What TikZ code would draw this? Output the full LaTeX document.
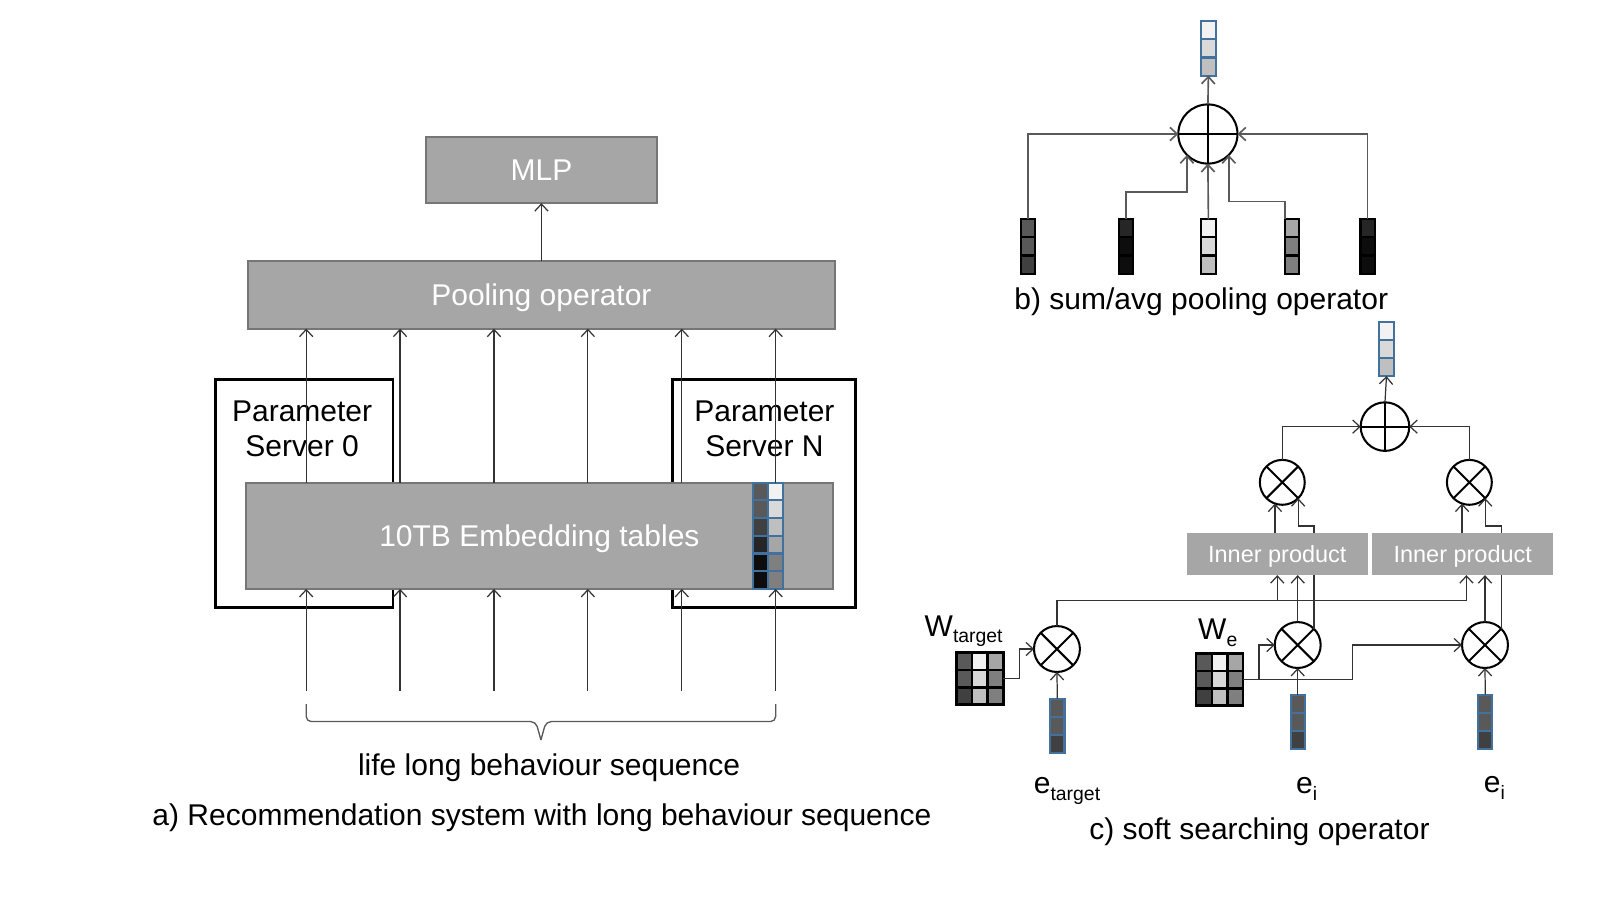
\documentclass[tikz,border=0pt]{standalone}
\usepackage{fontspec}
\setmainfont{Liberation Sans}
\usetikzlibrary{arrows.meta,calc}
\definecolor{g1}{HTML}{F2F2F2}
\definecolor{g2}{HTML}{D9D9D9}
\definecolor{g3}{HTML}{BFBFBF}
\definecolor{g4}{HTML}{A6A6A6}
\definecolor{g5}{HTML}{7F7F7F}
\definecolor{g6}{HTML}{595959}
\definecolor{g7}{HTML}{404040}
\definecolor{g8}{HTML}{262626}
\definecolor{g9}{HTML}{0D0D0D}
\definecolor{vb}{HTML}{41719C}
\definecolor{lc}{HTML}{333333}
\definecolor{lcb}{HTML}{5A5A5A}
\definecolor{bx}{HTML}{A6A6A6}
\definecolor{bxd}{HTML}{767676}
\newcommand\fbig{\fontsize{29.4}{35}\selectfont}
\newcommand\fmid{\fontsize{23}{27}\selectfont}
\newcommand\fsub{\fontsize{19}{19}\selectfont}
\tikzset{
  arr/.style={draw=lc,line width=1.2pt,-{Straight Barb[length=7pt,width=13pt]}},
  arrb/.style={draw=lcb,line width=1.6pt,-{Straight Barb[length=7pt,width=13pt]}},
  gbox/.style={rectangle,fill=bx,draw=bxd,line width=2pt,text=white,font=\fbig,inner sep=0pt,outer sep=0pt,text height=21pt,text depth=0pt},
  ipbox/.style={rectangle,fill=bx,text=white,font=\fmid,inner sep=0pt,outer sep=0pt,text height=16.5pt,text depth=0pt},
  psbox/.style={rectangle,draw=black,line width=2.5pt,fill=white,inner sep=0pt,outer sep=0pt,anchor=north west},
  txt/.style={font=\fbig,inner sep=0pt,outer sep=0pt},
  circ/.style={circle,draw=black,line width=2pt,fill=white,inner sep=0pt,outer sep=0pt},
  brc/.style={draw=g6,line width=1.3pt}
}
% three-cell vector: name, centre x, top y, border colour, three fills
\newcommand{\vthree}[7]{%
  \fill[#5] ({#2-7},{#3}) rectangle ({#2+7},{#3+17.67});
  \fill[#6] ({#2-7},{#3+17.67}) rectangle ({#2+7},{#3+35.33});
  \fill[#7] ({#2-7},{#3+35.33}) rectangle ({#2+7},{#3+53});
  \draw[#4,line width=2pt] ({#2-7},{#3+17.67}) -- ({#2+7},{#3+17.67}) ({#2-7},{#3+35.33}) -- ({#2+7},{#3+35.33});
  \node[draw=#4,line width=2pt,minimum width=14pt,minimum height=53pt,inner sep=0pt,outer sep=0pt,anchor=north] (#1) at (#2,#3) {};
}
% 3x3 matrix: name, left x, top y
\newcommand{\mthree}[3]{%
  \foreach \ci/\ri/\cl in {0/0/g6,0/1/g6,0/2/g7,1/0/g1,1/1/g2,1/2/g3,2/0/g4,2/1/g5,2/2/g5}{
    \fill[\cl] ({#2+\ci*15.33},{#3+\ri*17}) rectangle ({#2+(\ci+1)*15.33},{#3+(\ri+1)*17});}
  \draw[black,line width=2.5pt] ({#2+15.33},{#3}) -- ({#2+15.33},{#3+51}) ({#2+30.67},{#3}) -- ({#2+30.67},{#3+51})
     ({#2},{#3+17}) -- ({#2+46},{#3+17}) ({#2},{#3+34}) -- ({#2+46},{#3+34});
  \node[draw=black,line width=2.5pt,minimum width=46pt,minimum height=51pt,inner sep=0pt,outer sep=0pt,anchor=north west] (#1) at (#2,#3) {};
}
\begin{document}
\begin{tikzpicture}[x=1pt,y=-1pt]
\path[fill=white,use as bounding box] (0,0) rectangle (1567.7,881.8);

%%%%%%%%%%%%%%%% part a
\node[gbox,minimum width=227pt,minimum height=65pt] (mlp) at (530.5,166.5) {MLP};
\node[gbox,minimum width=575pt,minimum height=66pt] (pool) at (530.5,289) {Pooling operator};
\draw[arr] (pool.north) -- (mlp.south);

\node[psbox,minimum width=174pt,minimum height=223pt] (ps0) at (211,372) {};
\node[psbox,minimum width=179pt,minimum height=223pt] (psn) at (659,372) {};
\node[txt,align=center,anchor=north] (ps0t) at (296,392.5) {Parameter\\Server 0};
\node[txt,align=center,anchor=north] (psnt) at (749,392.5) {Parameter\\Server N};

\node[gbox,minimum width=575pt,minimum height=104pt] (emb) at (528.5,525) {10TB Embedding tables};

\foreach \ri/\cl/\cr in {0/g6/g1,1/g6/g2,2/g7/g3,3/g8/g4,4/g9/g5,5/g9/g5}{
  \fill[\cl] (737.5,{473+\ri*17.33}) rectangle (752.5,{473+(\ri+1)*17.33});
  \fill[\cr] (752.5,{473+\ri*17.33}) rectangle (767.5,{473+(\ri+1)*17.33});
  \draw[vb,line width=2pt] (737.5,{473+\ri*17.33}) rectangle (752.5,{473+(\ri+1)*17.33});
  \draw[vb,line width=2pt] (752.5,{473+\ri*17.33}) rectangle (767.5,{473+(\ri+1)*17.33});
}
\node[draw=vb,line width=2pt,minimum width=30pt,minimum height=104pt,inner sep=0pt,outer sep=0pt,anchor=north west] (ecol) at (737.5,473) {};

\foreach \i/\x in {1/300,2/392,3/484,4/576,5/668,6/760}{
  \coordinate (c\i) at (\x,677);
  \draw[arr] (c\i |- emb.north) -- (c\i |- pool.south);
  \draw[arr] (c\i) -- (c\i |- emb.south);
}

\coordinate (brL) at (300,690);
\coordinate (brR) at (760,690);
\coordinate (brT) at (530,725);
\draw[brc,rounded corners=5pt] (brL) -- (300,707) -- (525,707) -- (brT);
\draw[brc,rounded corners=5pt] (brR) -- (760,707) -- (535,707) -- (brT);

\node[txt,anchor=base] (lls) at (538,760) {life long behaviour sequence};
\node[txt,anchor=base] (capa) at (531,809) {a) Recommendation system with long behaviour sequence};

%%%%%%%%%%%%%%%% part b
\vthree{bt}{1184}{21}{vb}{g1}{g2}{g3}
\node[circ,minimum size=58pt] (bp) at (1183.5,131.3) {};
\draw[line width=2pt] (bp.north) -- (bp.south) (bp.west) -- (bp.east);

\vthree{b1}{1007}{215}{black}{g6}{g6}{g7}
\vthree{b2}{1103}{215}{black}{g8}{g9}{g9}
\vthree{b3}{1184}{215}{black}{g1}{g2}{g3}
\vthree{b4}{1266}{215}{black}{g4}{g5}{g5}
\vthree{b5}{1340}{215}{black}{g8}{g9}{g9}

\coordinate (bj2) at (0,188);
\coordinate (bj4) at (0,197.6);
\draw[arrb] (bp.north) -- (bt.south);
\draw[arrb] (b1.north) |- (bp.west);
\draw[arrb] (b5.north) |- (bp.east);
\draw[arrb] (b2.north) -- (b2.north |- bj2) -| (bp.225);
\draw[arrb] (b3.north) -- (bp.south);
\draw[arrb] (b4.north west) -- (b4.north west |- bj4) -| (bp.315);

\node[txt,anchor=base] (capb) at (1177,303) {b) sum/avg pooling operator};

%%%%%%%%%%%%%%%% part c
\vthree{ct}{1358.5}{315.5}{vb}{g1}{g2}{g3}
\node[circ,minimum size=47.6pt] (cp) at (1357,418) {};
\draw[line width=2pt] (cp.north) -- (cp.south) (cp.west) -- (cp.east);

\node[circ,minimum size=44pt] (cu1) at (1256.4,472.6) {};
\node[circ,minimum size=44pt] (cu2) at (1439.7,472.6) {};
\node[circ,minimum size=45pt] (cl0) at (1035.6,635.9) {};
\node[circ,minimum size=45pt] (cl1) at (1271.5,632) {};
\node[circ,minimum size=45pt] (cl2) at (1455,632) {};
\foreach \n in {cu1,cu2,cl0,cl1,cl2}{
  \draw[line width=2pt] (\n.north west) -- (\n.south east) (\n.north east) -- (\n.south west);
}

\mthree{wt}{937}{639.5}
\mthree{we}{1172}{640.5}
\vthree{et}{1036}{684.5}{vb}{g6}{g6}{g7}
\vthree{ei1}{1271.5}{681}{vb}{g6}{g6}{g7}
\vthree{ei2}{1455.3}{680.5}{vb}{g6}{g6}{g7}

\coordinate (yB) at (0,515.4);
\coordinate (t1) at (1251.5,588.5);
\coordinate (t2) at (1436.8,588.5);
\coordinate (k0) at (999.2,0);
\coordinate (k1) at (1233.6,0);
\coordinate (k2) at (1325,0);

% connectors passing behind the inner product boxes
\draw[arr] (cl1.45) -- (cl1.45 |- yB) -| (cu1.315);
\draw[arr] (cl2.45) -- (cl2.45 |- yB) -| (cu2.315);

\node[ipbox,minimum width=177pt,minimum height=41pt] (ip1) at (1251.5,543) {Inner product};
\node[ipbox,minimum width=177.7pt,minimum height=41pt] (ip2) at (1433.2,543) {Inner product};

\draw[arr] (cp.north) -- (ct.south);
\draw[arr] (cu1.north) |- (cp.west);
\draw[arr] (cu2.north) |- (cp.east);
\draw[arr] (ip1.north -| cu1.251) -- (cu1.251);
\draw[arr] (ip2.north -| cu2.251) -- (cu2.251);
\draw[arr] (cl1.north) -- (cl1.north |- ip1.south);
\draw[arr] (cl2.north) -- (cl2.north |- ip2.south);
\draw[arr] (cl0.north) |- (t1) -- (t1 |- ip1.south);
\draw[arr] (t1) -- (t2) -- (t2 |- ip2.south);
\draw[arr] (wt.east) -- (wt.east -| k0) |- (cl0.west);
\draw[arr] (we.east) -- (we.east -| k1) |- (cl1.west);
\draw[arr] (we.east -| k1) -- (we.east -| k2) |- (cl2.west);
\draw[arr] (et.north) -- (cl0.south);
\draw[arr] (ei1.north) -- (cl1.south);
\draw[arr] (ei2.north) -- (cl2.south);

\node[txt,anchor=base west] (wtl) at (906,624) {W\raisebox{-6pt}{\fsub target}};
\node[txt,anchor=base west] (wel) at (1174,627) {W\raisebox{-6pt}{\fsub e}};
\node[txt,anchor=base west] (etl) at (1013,777) {e\raisebox{-7pt}{\fsub target}};
\node[txt,anchor=base west] (eil1) at (1270,777) {e\raisebox{-7pt}{\fsub i}};
\node[txt,anchor=base west] (eil2) at (1454,776) {e\raisebox{-7pt}{\fsub i}};

\node[txt,anchor=base] (capc) at (1234,823) {c) soft searching operator};
\end{tikzpicture}
\end{document}
